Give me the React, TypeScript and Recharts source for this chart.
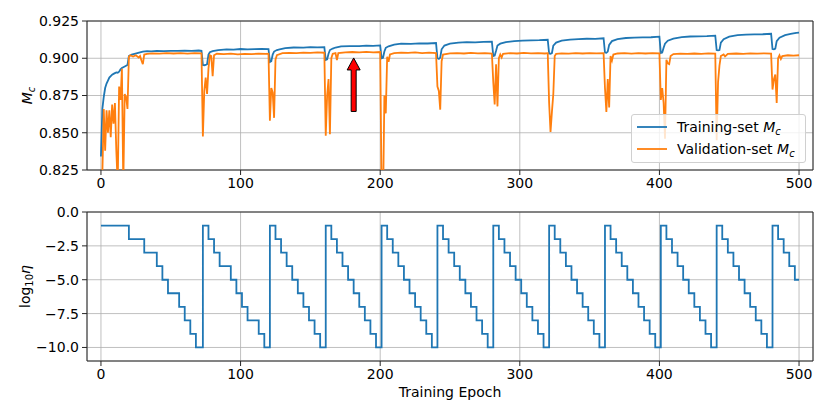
import React from 'react'
import { LineChart, Line, XAxis, YAxis, CartesianGrid, ReferenceArea, ReferenceLine, Legend, Label } from 'recharts'

const FONT = '"DejaVu Sans", sans-serif'
const BLUE = '#1f77b4'
const ORANGE = '#ff7f0e'
const FRAME = '#262626'
const GRID = '#b0b0b0'

const epochTicks = [0, 100, 200, 300, 400, 500]
const mcTicks = [0.825, 0.85, 0.875, 0.9, 0.925]
const lrTicks = [0, -2.5, -5, -7.5, -10]

// [epoch, M_c]
const trainingMc: [number, number][] = [
  [0, 0.834], [1, 0.866], [2, 0.874], [3, 0.88], [4, 0.883], [5, 0.885], [6, 0.887], [7, 0.888], [8, 0.889],
  [9, 0.8895], [10, 0.89], [11, 0.8905], [12, 0.8903], [13, 0.891], [14, 0.8925], [15, 0.8935], [16, 0.894],
  [17, 0.8945], [18, 0.895], [19, 0.8955], [20, 0.9015], [21, 0.902], [22, 0.9025], [24, 0.903], [26, 0.9035],
  [28, 0.904], [30, 0.9045], [33, 0.9048], [36, 0.9046], [40, 0.905], [45, 0.9048], [50, 0.905], [55, 0.9049],
  [60, 0.9051], [65, 0.905], [70, 0.9052], [72, 0.905],
  [73, 0.8955], [74, 0.8953], [75, 0.8955], [76, 0.896], [77, 0.9025], [78, 0.904], [80, 0.9048], [84, 0.9055],
  [90, 0.906], [95, 0.9058], [100, 0.9062], [105, 0.906], [110, 0.9061], [115, 0.9063], [120, 0.9062],
  [121, 0.8975], [122, 0.898], [123, 0.9025], [124, 0.9045], [126, 0.9055], [128, 0.906], [132, 0.9068],
  [138, 0.9072], [145, 0.9071], [150, 0.9074], [155, 0.9073], [160, 0.9075],
  [161, 0.8988], [162, 0.8992], [163, 0.903], [164, 0.9055], [166, 0.9065], [168, 0.9072], [172, 0.908],
  [178, 0.9082], [185, 0.9081], [190, 0.9085], [195, 0.9083], [200, 0.9086],
  [201, 0.9], [202, 0.9003], [203, 0.9045], [204, 0.907], [206, 0.908], [210, 0.9092], [215, 0.9098],
  [222, 0.9097], [228, 0.91], [234, 0.9099], [240, 0.9102],
  [241, 0.9], [242, 0.8995], [243, 0.9005], [244, 0.906], [246, 0.9085], [250, 0.9098], [256, 0.9105],
  [262, 0.9108], [268, 0.9106], [274, 0.911], [280, 0.9112],
  [281, 0.9015], [282, 0.9018], [283, 0.905], [284, 0.9085], [286, 0.9098], [290, 0.9108], [296, 0.9115],
  [302, 0.9118], [308, 0.912], [314, 0.9121], [320, 0.9124],
  [321, 0.9032], [322, 0.903], [323, 0.9035], [324, 0.9085], [326, 0.9105], [330, 0.9118], [336, 0.9125],
  [342, 0.9128], [348, 0.9131], [354, 0.913], [360, 0.9134],
  [361, 0.9038], [362, 0.9036], [363, 0.9045], [364, 0.909], [366, 0.9115], [370, 0.9128], [376, 0.9136],
  [382, 0.9139], [388, 0.914], [394, 0.9141], [400, 0.9145],
  [401, 0.9035], [402, 0.9038], [403, 0.907], [404, 0.9098], [406, 0.9118], [410, 0.9132], [416, 0.9142],
  [422, 0.9146], [428, 0.9147], [434, 0.9148], [440, 0.9152],
  [441, 0.9055], [442, 0.9053], [443, 0.9055], [444, 0.9105], [446, 0.9128], [450, 0.9145], [456, 0.9155],
  [462, 0.9158], [468, 0.916], [474, 0.9161], [480, 0.9164],
  [481, 0.9062], [482, 0.906], [483, 0.9065], [484, 0.9115], [486, 0.9138], [490, 0.9155], [494, 0.9163],
  [498, 0.917], [500, 0.9172],
]

const validationMc: [number, number][] = [
  [0, 0.82], [1, 0.822], [2, 0.866], [3, 0.838], [4, 0.865], [5, 0.85], [6, 0.865], [7, 0.847], [8, 0.869],
  [9, 0.856], [10, 0.87], [11, 0.838], [12, 0.815], [13, 0.881], [14, 0.872], [15, 0.893], [16, 0.815],
  [17, 0.876], [18, 0.874], [19, 0.866], [20, 0.901], [21, 0.902], [23, 0.9012], [25, 0.902], [27, 0.9005],
  [28, 0.9015], [29, 0.8985], [30, 0.896], [31, 0.9025], [33, 0.903], [37, 0.9033], [42, 0.9031], [47, 0.9035],
  [52, 0.9032], [57, 0.9034], [62, 0.9031], [67, 0.9035], [72, 0.9033],
  [73, 0.8475], [74, 0.878], [75, 0.887], [76, 0.876], [77, 0.893], [78, 0.902], [79, 0.9015], [80, 0.888],
  [81, 0.902], [83, 0.903], [88, 0.9028], [93, 0.9031], [98, 0.9026], [103, 0.903], [108, 0.9028],
  [113, 0.9031], [118, 0.9029], [120, 0.903],
  [121, 0.858], [122, 0.88], [123, 0.877], [124, 0.86], [125, 0.899], [126, 0.902], [130, 0.9034],
  [135, 0.9036], [140, 0.9035], [145, 0.9038], [150, 0.9036], [155, 0.9039], [160, 0.9037],
  [161, 0.848], [162, 0.875], [163, 0.886], [164, 0.849], [165, 0.9], [166, 0.903], [168, 0.9035],
  [169, 0.8987], [170, 0.9035], [175, 0.904], [180, 0.9042], [185, 0.904], [190, 0.9043], [195, 0.9039],
  [200, 0.9042],
  [201, 0.812], [202, 0.8], [203, 0.875], [204, 0.863], [205, 0.901], [206, 0.8976], [207, 0.9025],
  [210, 0.9035], [215, 0.9038], [220, 0.9036], [225, 0.9039], [230, 0.9035], [235, 0.9038], [240, 0.9034],
  [241, 0.881], [242, 0.878], [243, 0.8655], [244, 0.898], [245, 0.9025], [250, 0.9033], [255, 0.9035],
  [260, 0.9032], [265, 0.9036], [270, 0.9033], [275, 0.9035], [280, 0.9032],
  [281, 0.884], [282, 0.869], [283, 0.896], [284, 0.8677], [285, 0.9], [286, 0.9025], [287, 0.9005],
  [288, 0.903], [293, 0.9034], [298, 0.9032], [303, 0.9036], [308, 0.9033], [313, 0.9035], [318, 0.9032],
  [320, 0.9034],
  [321, 0.87], [322, 0.8505], [323, 0.864], [324, 0.876], [325, 0.9015], [326, 0.903], [330, 0.9033],
  [335, 0.9031], [340, 0.9034], [345, 0.9032], [350, 0.9035], [355, 0.9033], [360, 0.9034],
  [361, 0.88], [362, 0.864], [363, 0.886], [364, 0.867], [365, 0.9015], [366, 0.8985], [367, 0.9025],
  [370, 0.9032], [375, 0.9034], [380, 0.9031], [385, 0.9034], [390, 0.9032], [395, 0.9035], [400, 0.9033],
  [401, 0.872], [402, 0.88], [403, 0.87], [404, 0.846], [405, 0.899], [406, 0.8965], [407, 0.896],
  [408, 0.9015], [410, 0.9028], [415, 0.9031], [420, 0.9029], [425, 0.9032], [430, 0.903], [435, 0.9033],
  [440, 0.9031],
  [441, 0.845], [442, 0.884], [443, 0.895], [444, 0.9015], [446, 0.9025], [447, 0.9012], [449, 0.903],
  [455, 0.9032], [460, 0.903], [465, 0.9033], [470, 0.9031], [475, 0.9033], [480, 0.9031],
  [481, 0.879], [482, 0.886], [483, 0.889], [484, 0.87], [485, 0.9], [486, 0.902], [487, 0.8995],
  [488, 0.9015], [492, 0.902], [496, 0.9018], [500, 0.902],
]

// [epoch where the level starts, log10 eta]
const lrSchedule: [number, number][] = [
  [0, -1], [20, -2], [31, -3], [40, -4], [44, -5], [48, -6], [56, -7], [60, -8], [64, -9], [68, -10],
  [73, -1], [77, -2], [81, -3], [85, -4], [93, -5], [97, -6], [101, -7], [105, -8], [113, -9], [117, -10],
  [121, -1], [125, -2], [129, -3], [133, -4], [137, -5], [141, -6], [145, -7], [149, -8], [153, -9], [157, -10],
  [161, -1], [165, -2], [169, -3], [173, -4], [177, -5], [181, -6], [185, -7], [189, -8], [193, -9], [197, -10],
  [201, -1], [205, -2], [209, -3], [213, -4], [217, -5], [221, -6], [225, -7], [229, -8], [233, -9], [237, -10],
  [241, -1], [245, -2], [249, -3], [253, -4], [257, -5], [261, -6], [265, -7], [269, -8], [273, -9], [277, -10],
  [281, -1], [285, -2], [289, -3], [293, -4], [297, -5], [301, -6], [305, -7], [309, -8], [313, -9], [317, -10],
  [321, -1], [325, -2], [329, -3], [333, -4], [337, -5], [341, -6], [345, -7], [349, -8], [353, -9], [357, -10],
  [361, -1], [365, -2], [369, -3], [373, -4], [377, -5], [381, -6], [385, -7], [389, -8], [393, -9], [397, -10],
  [401, -1], [405, -2], [409, -3], [413, -4], [417, -5], [421, -6], [425, -7], [429, -8], [433, -9], [437, -10],
  [441, -1], [445, -2], [449, -3], [453, -4], [457, -5], [461, -6], [465, -7], [469, -8], [473, -9], [477, -10],
  [481, -1], [485, -2], [489, -3], [493, -4], [497, -5], [500, -5],
]

// annotation arrow, in data units
const arrowEpoch = 181
const arrowFrom = 0.8643
const arrowTo = 0.9002

const trainData = trainingMc.map(([epoch, mc]) => ({ epoch, mc }))
const valData = validationMc.map(([epoch, mc]) => ({ epoch, mc }))
const lrData = lrSchedule.map(([epoch, lr]) => ({ epoch, lr }))

const minus = (s: string) => s.replace('-', '\u2212')
const tickStyle = { fill: '#000', fontSize: 14, fontFamily: FONT }

function McLabel({ viewBox }: any) {
  const x = viewBox.x + 27
  const y = viewBox.y + viewBox.height / 2
  return (
    <text x={x} y={y} transform={`rotate(-90 ${x} ${y})`} textAnchor="middle" dy={5} fontFamily={FONT} fontSize={14} fill="#000">
      <tspan fontStyle="italic">M</tspan>
      <tspan fontStyle="italic" fontSize={10} dy={3}>c</tspan>
    </text>
  )
}

function LrLabel({ viewBox }: any) {
  const x = viewBox.x + 25
  const y = viewBox.y + viewBox.height / 2
  return (
    <text x={x} y={y} transform={`rotate(-90 ${x} ${y})`} textAnchor="middle" dy={5} fontFamily={FONT} fontSize={14} fill="#000">
      <tspan>log</tspan>
      <tspan fontSize={10} dy={3}>10</tspan>
      <tspan fontStyle="italic" dy={-3}>η</tspan>
    </text>
  )
}

function Arrow(props: any) {
  const { x1, y1, x2, y2 } = props
  const cx = (x1 + x2) / 2
  const tail = Math.max(y1, y2)
  const tip = Math.min(y1, y2)
  const head = tip + 12
  const pts = [
    [cx - 2.5, tail], [cx - 2.5, head], [cx - 6.5, head], [cx, tip],
    [cx + 6.5, head], [cx + 2.5, head], [cx + 2.5, tail],
  ].map(p => p.join(',')).join(' ')
  return <polygon points={pts} fill="#ff0000" stroke="#000" strokeWidth={1} />
}

function McLegend({ payload }: any) {
  return (
    <div style={{
      width: 175, height: 49, boxSizing: 'border-box', border: '1px solid #d0d0d0', borderRadius: 3,
      background: 'rgba(255,255,255,0.8)', fontFamily: FONT, fontSize: 14, color: '#000', position: 'relative',
    }}>
      {(payload || []).map((p: any, i: number) => (
        <div key={p.value} style={{ position: 'absolute', left: 5, top: 2 + i * 21.6, height: 20, display: 'flex', alignItems: 'center', whiteSpace: 'nowrap' }}>
          <svg width={30} height={4}><line x1={0} y1={2} x2={30} y2={2} stroke={p.color} strokeWidth={1.8} /></svg>
          <span style={{ marginLeft: 10 }}>
            {p.value} <i>M</i><span style={{ fontSize: 10, fontStyle: 'italic', position: 'relative', top: 3 }}>c</span>
          </span>
        </div>
      ))}
    </div>
  )
}

export default function App() {
  return (
    <div style={{ position: 'absolute', left: 0, top: 0, width: 830, height: 415, background: '#fff' }}>
      <LineChart width={830} height={190} margin={{ top: 21, right: 17, bottom: 0, left: 0 }}>
        <CartesianGrid stroke={GRID} strokeWidth={0.8} />
        <XAxis dataKey="epoch" type="number" domain={[-10, 510]} ticks={epochTicks} height={20}
          axisLine={false} tickSize={5} tickMargin={3} tickLine={{ stroke: FRAME }} tick={tickStyle} />
        <YAxis type="number" domain={[0.825, 0.925]} ticks={mcTicks} allowDataOverflow width={87}
          axisLine={false} tickSize={5} tickMargin={3} tickLine={{ stroke: FRAME }} tick={tickStyle}
          tickFormatter={(v: number) => v.toFixed(3)} label={<Label content={McLabel} />} />
        <Line data={trainData} dataKey="mc" name="Training-set" stroke={BLUE} strokeWidth={1.8} dot={false} isAnimationActive={false} />
        <Line data={valData} dataKey="mc" name="Validation-set" stroke={ORANGE} strokeWidth={1.8} dot={false} isAnimationActive={false} />
        <ReferenceLine segment={[{ x: arrowEpoch, y: arrowFrom }, { x: arrowEpoch, y: arrowTo }]} shape={Arrow} ifOverflow="visible" />
        <ReferenceArea x1={-10} x2={510} y1={0.825} y2={0.925} fill="none" stroke={FRAME} strokeWidth={1} ifOverflow="visible" />
        <Legend layout="vertical" align="center" verticalAlign="middle" content={McLegend}
          wrapperStyle={{ left: 631, top: 114, width: 175, height: 49 }} />
      </LineChart>
      <LineChart width={830} height={225} margin={{ top: 22, right: 17, bottom: 0, left: 0 }}>
        <CartesianGrid stroke={GRID} strokeWidth={0.8} />
        <XAxis dataKey="epoch" type="number" domain={[-10, 510]} ticks={epochTicks} height={54}
          axisLine={false} tickSize={5} tickMargin={3} tickLine={{ stroke: FRAME }} tick={tickStyle}>
          <Label value="Training Epoch" position="insideBottom" offset={18} fill="#000" fontSize={14} fontFamily={FONT} />
        </XAxis>
        <YAxis type="number" domain={[-11, 0]} ticks={lrTicks} width={87}
          axisLine={false} tickSize={5} tickMargin={3} tickLine={{ stroke: FRAME }} tick={tickStyle}
          tickFormatter={(v: number) => minus(v.toFixed(1))} label={<Label content={LrLabel} />} />
        <Line data={lrData} dataKey="lr" type="stepAfter" stroke={BLUE} strokeWidth={1.8} dot={false} isAnimationActive={false} />
        <ReferenceArea x1={-10} x2={510} y1={-11} y2={0} fill="none" stroke={FRAME} strokeWidth={1} ifOverflow="visible" />
      </LineChart>
    </div>
  )
}
